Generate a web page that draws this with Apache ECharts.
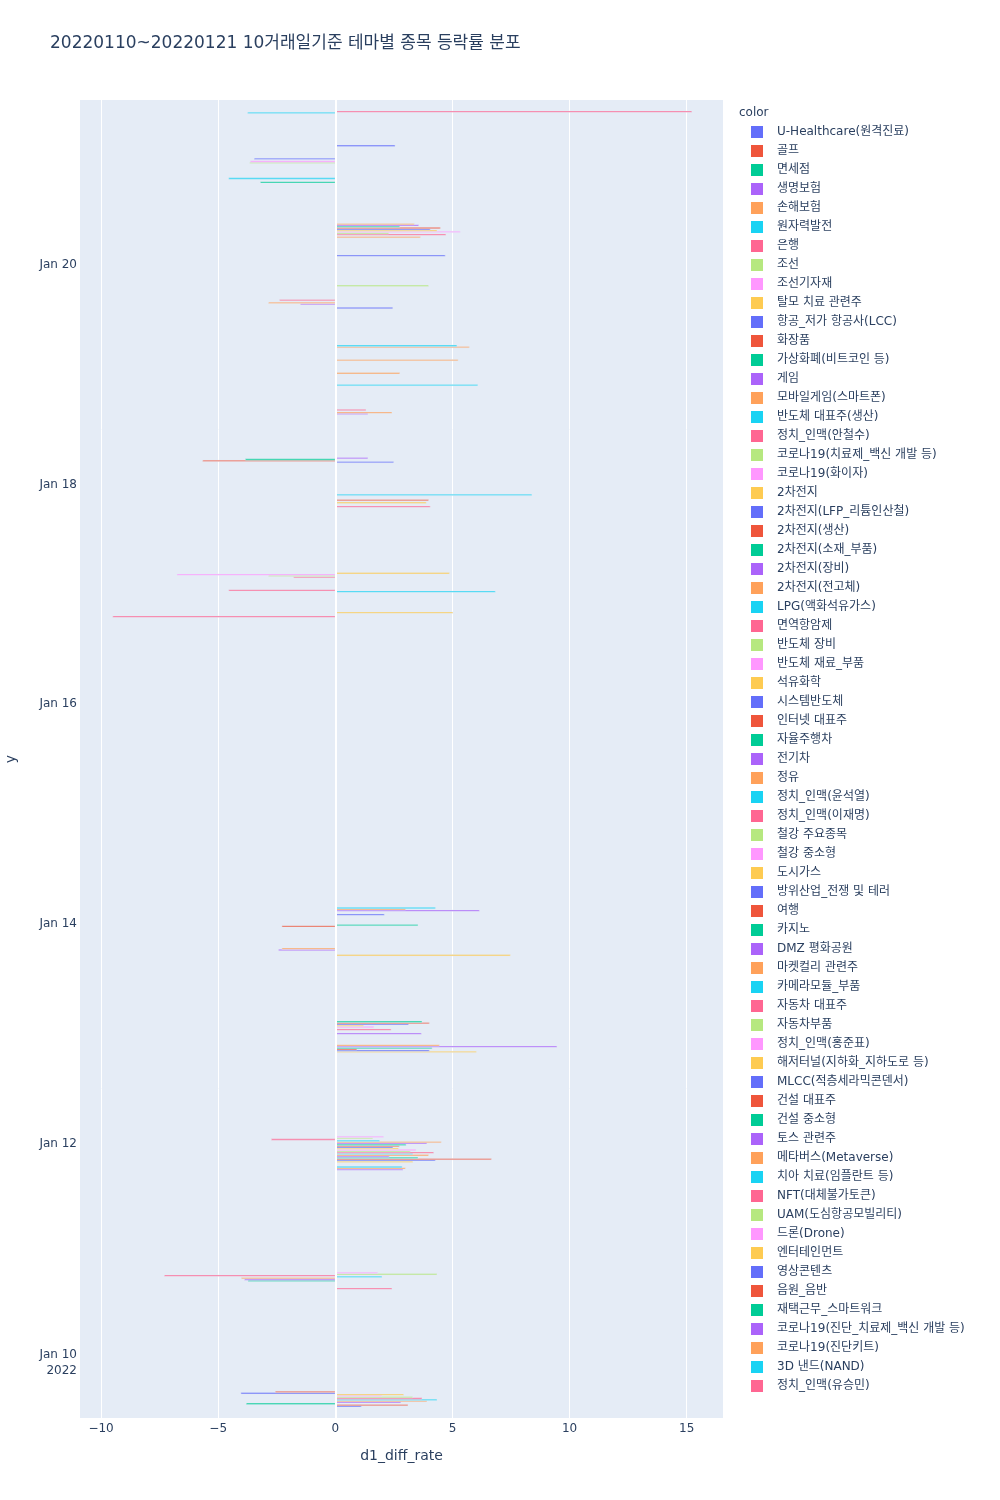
<!DOCTYPE html>
<html>
<head>
<meta charset="utf-8">
<script src="https://cdn.jsdelivr.net/npm/echarts@6/dist/echarts.min.js"></script>
<style>
  html, body { margin: 0; padding: 0; background: #fff; }
  #chart { width: 1000px; height: 1500px; }
</style>
</head>
<body>
<div id="chart"></div>
<script>
// theme names in legend order (trace order)
var themes = [
  'U-Healthcare(원격진료)', '골프', '면세점', '생명보험', '손해보험', '원자력발전', '은행', '조선', '조선기자재', '탈모 치료 관련주',
  '항공_저가 항공사(LCC)', '화장품', '가상화폐(비트코인 등)', '게임', '모바일게임(스마트폰)', '반도체 대표주(생산)', '정치_인맥(안철수)', '코로나19(치료제_백신 개발 등)', '코로나19(화이자)', '2차전지',
  '2차전지(LFP_리튬인산철)', '2차전지(생산)', '2차전지(소재_부품)', '2차전지(장비)', '2차전지(전고체)', 'LPG(액화석유가스)', '면역항암제', '반도체 장비', '반도체 재료_부품', '석유화학',
  '시스템반도체', '인터넷 대표주', '자율주행차', '전기차', '정유', '정치_인맥(윤석열)', '정치_인맥(이재명)', '철강 주요종목', '철강 중소형', '도시가스',
  '방위산업_전쟁 및 테러', '여행', '카지노', 'DMZ 평화공원', '마켓컬리 관련주', '카메라모듈_부품', '자동차 대표주', '자동차부품', '정치_인맥(홍준표)', '해저터널(지하화_지하도로 등)',
  'MLCC(적층세라믹콘덴서)', '건설 대표주', '건설 중소형', '토스 관련주', '메타버스(Metaverse)', '치아 치료(임플란트 등)', 'NFT(대체불가토큰)', 'UAM(도심항공모빌리티)', '드론(Drone)', '엔터테인먼트',
  '영상콘텐츠', '음원_음반', '재택근무_스마트워크', '코로나19(진단_치료제_백신 개발 등)', '코로나19(진단키트)', '3D 낸드(NAND)', '정치_인맥(유승민)'
];

// [theme index, d1_diff_rate] per trading day
var jan10 = [[0, 1.11], [1, 3.1], [2, -3.8], [3, 2.8], [4, 3.91], [5, 4.34], [6, 3.7], [7, 3.3], [8, 1.99], [9, 2.92], [10, -4.03], [11, -2.56]];
var jan11 = [[6, 2.42], [12, -3.73], [13, -3.88], [14, -4.01], [15, 1.99], [16, -7.3], [17, 4.34], [18, 1.81]];
var jan12 = [[13, 2.89], [14, 2.99], [15, 2.85], [19, 3.31], [20, 4.27], [21, 6.66], [22, 3.53], [23, 2.3], [24, 3.98], [25, 3.31],
             [26, 4.2], [27, 3.2], [28, 3.44], [29, 2.7], [30, 2.46], [31, 2.73], [32, 3.02], [33, 3.91], [34, 4.52], [35, 1.89],
             [36, -2.73], [37, 1.6], [38, 2.06]];
var jan13 = [[19, 6.02], [20, 4.01], [21, 0.92], [22, 4.13], [23, 9.46], [24, 4.44], [33, 3.67], [36, 2.38], [38, 1.64], [39, 1.21], [40, 3.13], [41, 4.01], [42, 3.7]];
var jan14 = [[9, 7.47], [13, -2.42], [14, -2.28], [31, -2.28], [32, 3.53], [40, 2.09], [43, 6.15], [44, 3.0], [45, 4.27]];
var jan17 = [[16, -9.5], [19, 5.02], [35, 6.83], [36, -4.55], [46, -1.78], [47, -2.85], [48, -6.76], [49, 4.87]];
var jan18 = [[16, 4.05], [19, 3.88], [21, 3.98], [25, 8.39], [50, 2.49], [51, -5.66], [52, -3.84], [53, 1.39]];
var jan19 = [[3, 1.39], [4, 2.42], [6, 1.31], [25, 6.08], [34, 2.75], [44, 5.24], [54, 5.72], [55, 5.19]];
var jan20 = [[0, 2.45], [3, -1.49], [4, -2.85], [6, -2.38], [17, 3.98], [40, 4.69], [54, 3.63], [56, 4.72], [57, 2.28], [58, 5.33],
             [59, 4.34], [60, 4.05], [61, 4.48], [62, 2.75], [63, 3.56], [64, 3.37]];
var jan21 = [[12, -3.2], [15, -4.55], [27, -3.65], [28, -3.63], [30, -3.46], [40, 2.55], [65, -3.74], [66, 15.22]];

var days = [
  ['2022-01-10', jan10], ['2022-01-11', jan11], ['2022-01-12', jan12], ['2022-01-13', jan13], ['2022-01-14', jan14],
  ['2022-01-17', jan17], ['2022-01-18', jan18], ['2022-01-19', jan19], ['2022-01-20', jan20], ['2022-01-21', jan21]
];
var yTicks = ['2022-01-10', '2022-01-12', '2022-01-14', '2022-01-16', '2022-01-18', '2022-01-20'];

var palette = ['#636EFA', '#EF553B', '#00CC96', '#AB63FA', '#FFA15A', '#19D3F3', '#FF6692', '#B6E880', '#FF97FF', '#FECB52'];
var DAY = 86400000;
var MONTHS = ['Jan', 'Feb', 'Mar', 'Apr', 'May', 'Jun', 'Jul', 'Aug', 'Sep', 'Oct', 'Nov', 'Dec'];
var FONT = '"DejaVu Sans", "Noto Sans CJK KR", sans-serif';

function ms(s) {
  var p = s.split('-');
  return Date.UTC(+p[0], +p[1] - 1, +p[2]);
}

// group bars by theme
var perTheme = themes.map(function () { return []; });
days.forEach(function (d) {
  var t = ms(d[0]);
  d[1].forEach(function (r) { perTheme[r[0]].push([r[1], t]); });
});

var n = themes.length;
var series = themes.map(function (name, idx) {
  var color = palette[idx % 10];
  return {
    name: name,
    type: 'custom',
    color: color,
    z: 3,
    clip: true,
    encode: { x: 0, y: 1 },
    data: perTheme[idx],
    renderItem: function (params, api) {
      var p0 = api.coord([0, api.value(1)]);
      var p1 = api.coord([api.value(0), api.value(1)]);
      var slot = api.size([0, DAY])[1] * 0.8 / n;
      var cy = p0[1] - (idx - (n - 1) / 2) * slot;
      return {
        type: 'rect',
        shape: { x: Math.min(p0[0], p1[0]), y: cy - slot / 2, width: Math.abs(p1[0] - p0[0]), height: slot },
        style: { fill: color, stroke: '#E5ECF6', lineWidth: 0.5 }
      };
    }
  };
});

// zero line
series.push({
  name: 'zero',
  type: 'line',
  data: [],
  z: 2,
  markLine: {
    silent: true,
    symbol: 'none',
    label: { show: false },
    lineStyle: { color: '#ffffff', width: 2, type: 'solid' },
    data: [{ xAxis: 0 }]
  }
});

var chart = echarts.init(document.getElementById('chart'));
chart.setOption({
  animation: false,
  backgroundColor: '#ffffff',
  textStyle: { fontFamily: FONT },
  title: {
    text: '20220110~20220121 10거래일기준 테마별 종목 등락률 분포',
    left: 50,
    top: 35,
    padding: 0,
    textStyle: { fontFamily: FONT, fontSize: 17, fontWeight: 'normal', color: '#2a3f5f' }
  },
  graphic: [{
    type: 'text',
    left: 739,
    top: 107,
    style: { text: 'color', fontFamily: FONT, fontSize: 12, fill: '#2a3f5f' }
  }],
  legend: {
    type: 'plain',
    orient: 'vertical',
    left: 751,
    top: 126,
    data: themes,
    icon: 'rect',
    itemWidth: 12,
    itemHeight: 12,
    itemGap: 7,
    padding: 0,
    selectedMode: false,
    textStyle: { fontFamily: FONT, fontSize: 12, color: '#2a3f5f', lineHeight: 12, padding: [0, 0, 0, 9] }
  },
  grid: {
    left: 80, right: 277, top: 100, bottom: 82,
    outerBoundsMode: 'none',
    containLabel: false,
    show: true, backgroundColor: '#E5ECF6', borderWidth: 0
  },
  xAxis: {
    type: 'value',
    min: -10.9,
    max: 16.55,
    minInterval: 5,
    maxInterval: 5,
    name: 'd1_diff_rate',
    nameLocation: 'middle',
    nameGap: 31,
    nameTextStyle: { fontFamily: FONT, fontSize: 14, color: '#2a3f5f' },
    axisLine: { show: false },
    axisTick: { show: false },
    axisLabel: {
      margin: 5, fontSize: 12, color: '#2a3f5f', fontFamily: FONT,
      showMinLabel: false, showMaxLabel: false,
      formatter: function (v) { return String(v).replace('-', '\u2212'); }
    },
    splitLine: { show: true, showMinLine: false, showMaxLine: false, lineStyle: { color: '#ffffff', width: 1 } }
  },
  yAxis: {
    type: 'value',
    min: ms('2022-01-10') - DAY / 2,
    max: ms('2022-01-21') + DAY / 2,
    name: 'y',
    nameLocation: 'middle',
    nameGap: 62,
    nameTextStyle: { fontFamily: FONT, fontSize: 14, color: '#2a3f5f' },
    axisLine: { show: false },
    axisTick: { show: false },
    splitLine: { show: false },
    axisLabel: {
      margin: 3,
      fontSize: 12,
      color: '#2a3f5f',
      fontFamily: FONT,
      lineHeight: 16,
      customValues: yTicks.map(ms),
      formatter: function (v) {
        var d = new Date(v);
        var s = MONTHS[d.getUTCMonth()] + ' ' + d.getUTCDate();
        return v === ms(yTicks[0]) ? s + '\n' + d.getUTCFullYear() : s;
      }
    }
  },
  series: series
});
</script>
</body>
</html>
